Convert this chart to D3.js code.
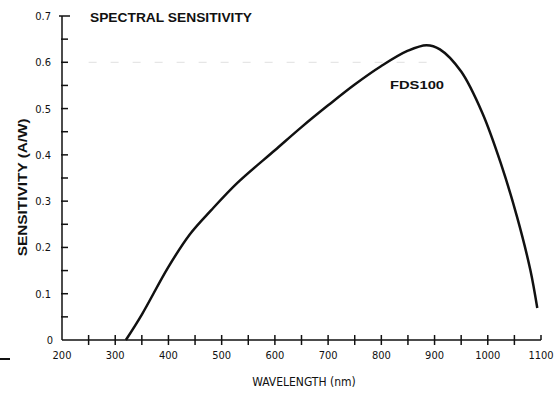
<!DOCTYPE html>
<html>
<head>
<meta charset="utf-8">
<script src="https://cdn.jsdelivr.net/npm/d3@7"></script>
<style>
  body { margin: 0; background: #fff; }
  svg text { fill: #111; }
</style>
</head>
<body>
<div id="graph"></div>
<script>
var wavelength = [320, 350, 400, 440, 480, 530, 600, 650, 700, 750, 800, 850, 885, 910, 950, 990, 1025, 1055, 1080, 1093]
var sensitivity = [0, 0.055, 0.158, 0.228, 0.28, 0.34, 0.41, 0.46, 0.507, 0.552, 0.592, 0.625, 0.637, 0.628, 0.58, 0.49, 0.38, 0.266, 0.151, 0.069]
var xTicks = [200, 300, 400, 500, 600, 700, 800, 900, 1000, 1100]
var yTicks = [0, 0.1, 0.2, 0.3, 0.4, 0.5, 0.6, 0.7]
var seriesName = "FDS100"

const width = 554, height = 393
const margin = { left: 62, top: 16, right: 13, bottom: 53 }
const narrow = '"Liberation Sans Narrow", "DejaVu Sans Condensed", sans-serif'
const bold = '"Liberation Sans", Arial, sans-serif'

const svg = d3.select("#graph").append("svg")
    .attr("width", width)
    .attr("height", height)

const x = d3.scaleLinear().domain([200, 1100]).range([margin.left, width - margin.right])
const y = d3.scaleLinear().domain([0, 0.7]).range([height - margin.bottom, margin.top])

// faint scan line at 0.6
svg.append("line")
    .attr("x1", x(250)).attr("x2", x(890))
    .attr("y1", y(0.6)).attr("y2", y(0.6))
    .attr("stroke", "#e0e0e0")
    .attr("stroke-dasharray", "8,14")

// x axis, ticks cross the line
const xAxis = svg.append("g").attr("transform", `translate(0, ${y(0)})`)
xAxis.append("line").attr("x1", x(200)).attr("x2", x(1100)).attr("stroke", "#111").attr("stroke-width", 1.5)
xAxis.selectAll(".xt").data(d3.range(250, 1101, 50)).enter().append("line")
    .attr("x1", d => x(d)).attr("x2", d => x(d))
    .attr("y1", -5).attr("y2", d => d == 1100 ? 0 : 5)
    .attr("stroke", "#111").attr("stroke-width", 1.5)
xAxis.selectAll("text").data(xTicks).enter().append("text")
    .attr("x", d => x(d)).attr("y", 19)
    .attr("text-anchor", "middle")
    .style("font-family", narrow).style("font-size", "11px")
    .text(d => d)

// y axis
const yAxis = svg.append("g").attr("transform", `translate(${x(200)}, 0)`)
yAxis.append("line").attr("y1", y(0)).attr("y2", y(0.7)).attr("stroke", "#111").attr("stroke-width", 1.5)
yAxis.selectAll(".yt").data(d3.range(1, 15).map(d => d * 0.05)).enter().append("line")
    .attr("y1", d => y(d)).attr("y2", d => y(d))
    .attr("x1", d => d > 0.69 ? -3 : -1).attr("x2", d => d > 0.69 ? 8 : 6)
    .attr("stroke", "#111").attr("stroke-width", 1.5)
yAxis.selectAll("text").data(yTicks).enter().append("text")
    .attr("x", d => d == 0 ? -9 : -11).attr("y", d => y(d) + 4)
    .attr("text-anchor", "end")
    .style("font-family", narrow).style("font-size", "11px")
    .text(d => d)

// curve
const line = d3.line().x((d, i) => x(wavelength[i])).y(d => y(d)).curve(d3.curveCatmullRom)
svg.append("path")
    .datum(sensitivity)
    .attr("fill", "none")
    .attr("stroke", "#111")
    .attr("stroke-width", 2.5)
    .attr("d", line)

// labels
svg.append("text").attr("x", 90).attr("y", 22)
    .attr("textLength", 162).attr("lengthAdjust", "spacingAndGlyphs")
    .style("font-family", bold).style("font-weight", "bold").style("font-size", "12px")
    .text("SPECTRAL SENSITIVITY")
svg.append("text").attr("x", 390).attr("y", 89)
    .attr("textLength", 54).attr("lengthAdjust", "spacingAndGlyphs")
    .style("font-family", bold).style("font-weight", "bold").style("font-size", "11.5px")
    .text(seriesName)
svg.append("text")
    .attr("transform", `translate(27, ${y(0.33)}) rotate(-90)`)
    .attr("text-anchor", "middle")
    .attr("textLength", 138).attr("lengthAdjust", "spacingAndGlyphs")
    .style("font-family", bold).style("font-weight", "bold").style("font-size", "12px")
    .text("SENSITIVITY (A/W)")
svg.append("text").attr("x", 304).attr("y", 386)
    .attr("text-anchor", "middle")
    .style("font-family", narrow).style("font-size", "12px")
    .text("WAVELENGTH (nm)")

// stray mark at the lower left edge
svg.append("line").attr("x1", 0).attr("x2", 10).attr("y1", 359).attr("y2", 359).attr("stroke", "#111").attr("stroke-width", 2)
</script>
</body>
</html>
